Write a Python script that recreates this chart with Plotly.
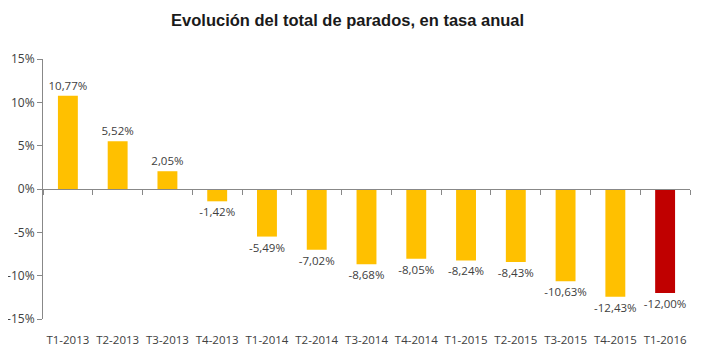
import plotly.graph_objects as go

categories = ["T1-2013", "T2-2013", "T3-2013", "T4-2013", "T1-2014", "T2-2014", "T3-2014",
              "T4-2014", "T1-2015", "T2-2015", "T3-2015", "T4-2015", "T1-2016"]
values = [10.77, 5.52, 2.05, -1.42, -5.49, -7.02, -8.68, -8.05, -8.24, -8.43, -10.63, -12.43, -12.00]
bar_colors = ["#FFC000"] * 12 + ["#C00000"]
tick_vals = [15, 10, 5, 0, -5, -10, -15]
tick_text = ["15%", "10%", "5%", "0%", "-5%", "-10%", "-15%"]

labels = [("%.2f%%" % v).replace(".", ",") for v in values]

fig = go.Figure(go.Bar(
    x=categories, y=values, marker=dict(color=bar_colors, line=dict(width=0)),
    text=labels, textposition="outside", cliponaxis=False, constraintext="none",
    textfont=dict(family="Open Sans", size=11.5, color="#404040"),
))

fig.update_layout(
    width=709, height=356,
    margin=dict(l=35, r=27, t=51, b=45, autoexpand=False),
    paper_bgcolor="white", plot_bgcolor="white",
    bargap=0.6, showlegend=False,
    title=dict(text="<b>Evolución del total de parados, en tasa anual</b>",
               x=0.479, xanchor="center", y=0.966, yanchor="middle",
               font=dict(family="Liberation Sans", size=16.5, color="#1a1a1a")),
)
fig.update_yaxes(range=[-15, 15], tickvals=tick_vals, ticktext=tick_text,
                 showline=True, linecolor="#888888", linewidth=1,
                 ticks="outside", ticklen=5, tickcolor="#888888",
                 showgrid=False, zeroline=False, automargin=False,
                 tickfont=dict(family="Open Sans", size=12, color="#404040"))
fig.update_xaxes(anchor="free", position=0.5, showline=True, linecolor="#888888", linewidth=1,
                 ticks="outside", ticklen=5, tickcolor="#888888", tickson="boundaries",
                 showgrid=False, ticklabelstandoff=140, tickangle=0, automargin=False,
                 tickfont=dict(family="Open Sans", size=11.5, color="#404040"))

fig.write_html("out.html")
